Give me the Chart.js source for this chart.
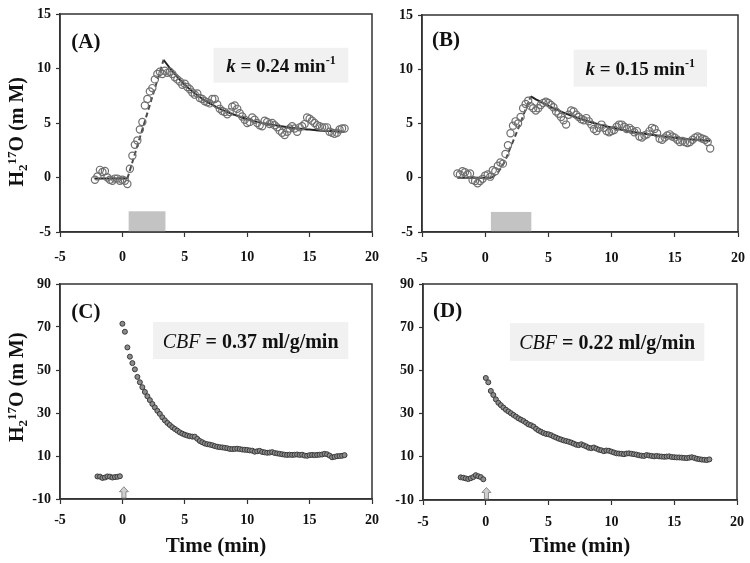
<!DOCTYPE html>
<html>
<head>
<meta charset="utf-8">
<script src="https://cdn.jsdelivr.net/npm/chart.js@4.4.1/dist/chart.umd.min.js"></script>
<style>
  body { margin: 0; background: #fff; }
  #wrap { position: relative; width: 750px; height: 563px; }
  canvas { position: absolute; }
</style>
</head>
<body>
<div id="wrap">
  <canvas id="pA" width="380" height="270" style="left:0;top:0"></canvas>
  <canvas id="pB" width="380" height="270" style="left:370px;top:0"></canvas>
  <canvas id="pC" width="380" height="293" style="left:0;top:270px"></canvas>
  <canvas id="pD" width="380" height="293" style="left:370px;top:270px"></canvas>
</div>
<script>
// sampling times (min), shared by all four panels
const time = [-2.2,-2.0,-1.8,-1.6,-1.4,-1.2,-1.0,-0.8,-0.6,-0.4,-0.2,
  0.0,0.2,0.4,0.6,0.8,1.0,1.2,1.4,1.6,1.8,2.0,2.2,2.4,2.6,2.8,3.0,3.2,3.4,3.6,3.8,
  4.0,4.2,4.4,4.6,4.8,5.0,5.2,5.4,5.6,5.8,6.0,6.2,6.4,6.6,6.8,7.0,7.2,7.4,7.6,7.8,
  8.0,8.2,8.4,8.6,8.8,9.0,9.2,9.4,9.6,9.8,10.0,10.2,10.4,10.6,10.8,11.0,11.2,11.4,11.6,11.8,
  12.0,12.2,12.4,12.6,12.8,13.0,13.2,13.4,13.6,13.8,14.0,14.2,14.4,14.6,14.8,15.0,15.2,15.4,15.6,15.8,
  16.0,16.2,16.4,16.6,16.8,17.0,17.2,17.4,17.6,17.8];

// (A) measured H2 17O (mM)
const valuesA = [-0.2,0.1,0.7,0.5,0.6,0.0,-0.2,-0.3,-0.1,-0.1,-0.3,
  -0.2,-0.3,-0.6,0.8,2.0,3.0,3.4,4.4,5.1,6.6,
  7.2,7.9,8.2,9.0,9.5,9.7,9.5,9.8,9.6,9.7,
  9.5,9.2,9.0,8.8,8.5,8.6,8.3,8.1,7.8,7.6,
  7.7,7.3,7.2,7.0,6.9,6.8,7.2,7.2,6.7,6.3,
  6.1,6.0,5.8,6.0,6.5,6.6,6.3,5.9,5.6,5.3,
  5.0,5.1,5.5,5.3,5.0,4.8,4.7,5.2,5.1,4.9,
  5.0,4.8,4.6,4.3,4.1,3.9,4.2,4.5,4.7,4.5,
  4.2,4.6,4.7,4.9,5.5,5.4,5.2,5.0,4.8,4.7,
  4.6,4.6,4.6,4.2,4.1,4.0,4.1,4.4,4.5,4.5];

// (B) measured
const valuesB = [0.4,0.3,0.6,0.5,0.3,0.4,-0.2,-0.3,-0.5,-0.3,-0.1,
  0.2,0.3,0.1,0.7,0.6,1.1,1.4,1.3,2.2,3.0,
  4.1,4.8,5.2,5.0,5.6,6.4,6.8,7.1,6.6,6.4,
  6.2,6.4,6.7,6.9,7.0,6.9,6.7,6.5,6.1,5.9,
  5.6,5.3,4.9,5.8,6.2,6.1,5.8,5.6,5.4,5.3,
  5.5,5.2,4.9,4.5,4.3,4.6,4.9,4.6,4.3,4.2,
  4.3,4.4,4.7,4.9,4.9,4.7,4.5,4.6,4.4,4.2,
  4.3,3.8,3.7,3.9,4.0,4.3,4.6,4.5,4.1,3.6,
  3.5,3.7,3.9,4.0,3.8,3.7,3.5,3.3,3.4,3.3,
  3.2,3.3,3.5,3.7,3.8,3.7,3.6,3.5,3.3,2.7];

// (C) measured
const valuesC = [null,0.5,0.4,-0.2,0.0,0.5,0.4,0.0,0.2,0.3,0.6,
  71.5,67.8,60.5,56.2,53.2,50.3,46.8,44.3,42.0,39.8,
  37.8,36.0,34.2,32.6,31.0,29.6,28.0,26.6,25.4,24.4,
  23.4,22.6,21.8,21.0,20.4,19.9,19.5,19.2,19.0,19.0,
  18.0,17.0,16.4,15.8,15.5,15.3,15.0,14.6,14.3,14.1,
  14.0,13.8,13.6,13.3,13.2,13.3,13.4,13.2,13.0,12.9,
  12.8,12.6,12.5,12.0,12.2,12.4,11.9,11.7,11.5,11.6,
  11.8,11.4,11.2,11.0,10.8,10.6,10.5,10.6,10.5,10.6,
  10.7,10.5,10.6,10.2,10.1,10.4,10.5,10.4,10.5,10.6,
  10.7,11.0,10.8,10.2,9.4,9.6,9.9,10.0,10.1,10.4];

// (D) measured
const valuesD = [null,0.5,0.3,0.0,-0.3,0.1,0.6,1.5,1.0,0.6,-0.4,
  46.5,44.5,40.5,38.6,36.6,35.0,33.9,32.8,31.8,31.0,
  30.2,29.4,28.6,27.8,27.2,26.6,25.8,25.0,24.6,24.0,
  23.0,22.2,21.6,21.0,20.6,20.4,20.0,19.4,18.9,18.4,
  18.0,17.6,17.3,17.0,16.6,16.1,15.6,15.4,15.8,15.3,
  14.8,14.2,14.0,14.3,13.8,13.3,13.0,12.6,12.9,12.8,
  12.4,12.0,11.6,11.5,11.4,11.2,11.5,11.6,11.4,11.2,
  11.0,10.7,10.5,10.4,10.8,10.6,10.4,10.2,10.4,10.2,
  10.1,10.0,10.1,10.2,9.9,9.8,9.7,9.7,9.6,9.5,
  9.4,9.6,9.8,9.5,9.1,8.9,8.7,8.6,8.5,8.8];

// model fits for (A) and (B)
const fitA_baseX = [-2.2, 0.4];
const fitA_baseY = [-0.1, -0.1];
const fitA_riseX = [0.4, 3.3];
const fitA_riseY = [-0.1, 10.8];
const fitA_decayX = [3.3,4,5,6,7,8,9,10,11,12,13,14,15,16,17,17.8];
const fitA_decayY = [10.8,9.75,8.5,7.55,6.8,6.2,5.75,5.35,5.05,4.85,4.65,4.5,4.4,4.3,4.25,4.2];

const fitB_baseX = [-2.2, 0.5];
const fitB_baseY = [0.0, 0.0];
const fitB_riseX = [0.5,1,1.5,2,2.5,3,3.6];
const fitB_riseY = [0.0,0.5,1.4,2.8,4.2,5.7,7.5];
const fitB_decayX = [3.6,4,5,6,7,8,9,10,11,12,13,14,15,16,17,17.8];
const fitB_decayY = [7.5,7.23,6.62,6.1,5.64,5.25,4.92,4.63,4.38,4.17,3.98,3.83,3.69,3.57,3.47,3.4];

const xTicks = { min: -5, max: 20, step: 5 };
const yTicksTop = { min: -5, max: 15, step: 5 };
const yTicksBottom = { min: -10, max: 90, step: 20 };

const SERIF = "'Liberation Serif', 'Times New Roman', serif";

function pts(xs, ys) {
    return xs.map((x, i) => ({ x: x, y: ys[i] })).filter(p => p.y !== null);
}

function drawRich(ctx, parts, x, y, align) {
    let w = 0;
    parts.forEach(p => { ctx.font = p[1]; w += ctx.measureText(p[0]).width; });
    let cx = align === 'center' ? x - w / 2 : x;
    ctx.textAlign = 'left';
    ctx.textBaseline = 'alphabetic';
    parts.forEach(p => {
        ctx.font = p[1];
        ctx.fillText(p[0], cx, y + (p[2] || 0));
        cx += ctx.measureText(p[0]).width;
    });
}

const deco = {
    id: 'deco',
    beforeDatasetsDraw(chart, args, o) {
        const ctx = chart.ctx, sx = chart.scales.x, sy = chart.scales.y;
        ctx.save();
        if (o.box) {
            const b = o.box;
            ctx.fillStyle = '#f1f1f1';
            const x1 = sx.getPixelForValue(b.x1), x2 = sx.getPixelForValue(b.x2);
            const y1 = sy.getPixelForValue(b.y1), y2 = sy.getPixelForValue(b.y2);
            ctx.fillRect(x1, y1, x2 - x1, y2 - y1);
        }
        if (o.bar) {
            const b = o.bar;
            ctx.fillStyle = '#c3c3c3';
            const x1 = sx.getPixelForValue(b.x1), x2 = sx.getPixelForValue(b.x2);
            const y1 = sy.getPixelForValue(b.y1), y2 = sy.getPixelForValue(b.y2);
            ctx.fillRect(x1, y2, x2 - x1, y1 - y2);
        }
        ctx.restore();
    },
    afterDraw(chart, args, o) {
        const ctx = chart.ctx, sx = chart.scales.x, sy = chart.scales.y;
        const a = chart.chartArea;
        ctx.save();
        // frame around plot
        ctx.strokeStyle = '#333';
        ctx.lineWidth = 1.5;
        ctx.strokeRect(a.left, a.top, a.right - a.left, a.bottom - a.top);
        ctx.fillStyle = '#111';
        // panel letter
        ctx.font = 'bold 21px ' + SERIF;
        ctx.textAlign = 'left';
        ctx.textBaseline = 'middle';
        ctx.fillText(o.label.text, sx.getPixelForValue(o.label.x), sy.getPixelForValue(o.label.y));
        // rate / flow box text
        if (o.box) {
            const b = o.box;
            const cx = (sx.getPixelForValue(b.x1) + sx.getPixelForValue(b.x2)) / 2;
            const cy = (sy.getPixelForValue(b.y1) + sy.getPixelForValue(b.y2)) / 2;
            drawRich(ctx, b.parts, cx, cy + 7, 'center');
        }
        // injection arrow
        if (o.arrow) {
            const ar = o.arrow;
            const x = sx.getPixelForValue(ar.x);
            const yb = sy.getPixelForValue(ar.y1) - 1, yt = sy.getPixelForValue(ar.y2);
            ctx.beginPath();
            ctx.moveTo(x - 2, yb);
            ctx.lineTo(x - 2, yt + 5);
            ctx.lineTo(x - 4.5, yt + 5);
            ctx.lineTo(x, yt);
            ctx.lineTo(x + 4.5, yt + 5);
            ctx.lineTo(x + 2, yt + 5);
            ctx.lineTo(x + 2, yb);
            ctx.closePath();
            ctx.fillStyle = '#d0d0d0';
            ctx.fill();
            ctx.strokeStyle = '#8a8a8a';
            ctx.lineWidth = 1;
            ctx.stroke();
        }
        // y axis title with sub/superscript
        if (o.ytitle) {
            ctx.fillStyle = '#111';
            ctx.translate(16, sy.getPixelForValue(o.ytitle.y));
            ctx.rotate(-Math.PI / 2);
            drawRich(ctx, [
                ['H', 'bold 20px ' + SERIF],
                ['2', 'bold 13px ' + SERIF, 4],
                ['17', 'bold 13px ' + SERIF, -7],
                ['O (m M)', 'bold 20px ' + SERIF]
            ], 0, 7, 'center');
        }
        ctx.restore();
    }
};

function makePanel(id, cfg) {
    const tickFont = { family: SERIF, size: 14, weight: 'bold' };
    const datasets = [];
    if (cfg.open) {
        datasets.push({
            data: pts(time, cfg.values),
            pointRadius: 3.6,
            pointBorderWidth: 1.2,
            pointBorderColor: '#6f6f6f',
            pointBackgroundColor: 'rgba(255,255,255,0)',
            showLine: false
        });
    } else {
        datasets.push({
            data: pts(time, cfg.values),
            pointRadius: 2.5,
            pointBorderWidth: 1,
            pointBorderColor: '#3a3a3a',
            pointBackgroundColor: '#8c8c8c',
            showLine: false
        });
    }
    (cfg.fits || []).forEach(f => {
        datasets.push({
            data: pts(f.x, f.y),
            showLine: true,
            pointRadius: 0,
            borderColor: f.dash ? '#4a4a4a' : '#222',
            borderWidth: 2,
            borderDash: f.dash ? [5, 3] : [],
            tension: f.x.length > 2 ? 0.4 : 0
        });
    });

    new Chart(document.getElementById(id), {
        type: 'scatter',
        data: { datasets: datasets },
        plugins: [deco],
        options: {
            responsive: false,
            animation: false,
            layout: { autoPadding: false, padding: { left: 0, top: cfg.padTop, right: cfg.padRight, bottom: 0 } },
            scales: {
                x: {
                    type: 'linear',
                    min: xTicks.min, max: xTicks.max,
                    ticks: { stepSize: xTicks.step, font: tickFont, color: '#111', padding: cfg.xPad, maxRotation: 0 },
                    grid: { drawOnChartArea: false, color: '#333', tickLength: 5, tickWidth: 1.2 },
                    border: { color: '#333', width: 1.5 },
                    title: {
                        display: !!cfg.xTitle,
                        text: 'Time (min)',
                        color: '#111',
                        font: { family: SERIF, size: 21, weight: 'bold' },
                        padding: { top: 0, bottom: 4 }
                    },
                    afterFit: s => { s.height = cfg.xH; s.paddingRight = 0; }
                },
                y: {
                    type: 'linear',
                    min: cfg.yTicks.min, max: cfg.yTicks.max,
                    ticks: { stepSize: cfg.yTicks.step, font: tickFont, color: '#111', padding: 5 },
                    grid: { drawOnChartArea: false, color: '#333', tickLength: 4, tickWidth: 1.2 },
                    border: { color: '#333', width: 1.5 },
                    afterFit: s => { s.width = cfg.yW; s.paddingTop = 0; s.paddingBottom = 0; }
                }
            },
            plugins: {
                legend: { display: false },
                tooltip: { enabled: false },
                deco: cfg.deco
            }
        }
    });
}

const kFont = 'bold 19px ' + SERIF;
const kItal = 'italic bold 19px ' + SERIF;
const kSup = 'bold 12px ' + SERIF;
const cbfFont = 'bold 20px ' + SERIF;
const cbfItal = 'italic 20px ' + SERIF;

makePanel('pA', {
    values: valuesA, open: true, yTicks: yTicksTop,
    yW: 60, padTop: 14, padRight: 8, xH: 38, xPad: 12,
    fits: [
        { x: fitA_baseX, y: fitA_baseY },
        { x: fitA_riseX, y: fitA_riseY, dash: true },
        { x: fitA_decayX, y: fitA_decayY }
    ],
    deco: {
        label: { text: '(A)', x: -4.1, y: 12.4 },
        box: { x1: 7.3, x2: 18.1, y1: 11.9, y2: 8.7,
               parts: [['k', kItal], [' = 0.24 min', kFont], ['-1', kSup, -8]] },
        bar: { x1: 0.5, x2: 3.45, y1: -5, y2: -3.1 },
        ytitle: { y: 4.2 }
    }
});

makePanel('pB', {
    values: valuesB, open: true, yTicks: yTicksTop,
    yW: 52, padTop: 15, padRight: 12, xH: 38, xPad: 13,
    fits: [
        { x: fitB_baseX, y: fitB_baseY },
        { x: fitB_riseX, y: fitB_riseY, dash: true },
        { x: fitB_decayX, y: fitB_decayY }
    ],
    deco: {
        label: { text: '(B)', x: -4.2, y: 12.6 },
        box: { x1: 7.0, x2: 17.55, y1: 11.8, y2: 8.4,
               parts: [['k', kItal], [' = 0.15 min', kFont], ['-1', kSup, -8]] },
        bar: { x1: 0.45, x2: 3.65, y1: -5, y2: -3.15 }
    }
});

makePanel('pC', {
    values: valuesC, open: false, yTicks: yTicksBottom,
    yW: 60, padTop: 14, padRight: 8, xH: 64, xPad: 8, xTitle: true,
    deco: {
        label: { text: '(C)', x: -4.1, y: 76.5 },
        box: { x1: 2.45, x2: 18.1, y1: 72.3, y2: 55.1,
               parts: [['CBF', cbfItal], [' = 0.37 ml/g/min', cbfFont]] },
        arrow: { x: 0.12, y1: -10, y2: -4.3 },
        ytitle: { y: 42 }
    }
});

makePanel('pD', {
    values: valuesD, open: false, yTicks: yTicksBottom,
    yW: 53, padTop: 14, padRight: 13, xH: 63, xPad: 9, xTitle: true,
    deco: {
        label: { text: '(D)', x: -4.2, y: 77.3 },
        box: { x1: 1.93, x2: 17.4, y1: 71.9, y2: 54.4,
               parts: [['CBF', cbfItal], [' = 0.22 ml/g/min', cbfFont]] },
        arrow: { x: 0.05, y1: -10, y2: -4.2 }
    }
});
</script>
</body>
</html>
